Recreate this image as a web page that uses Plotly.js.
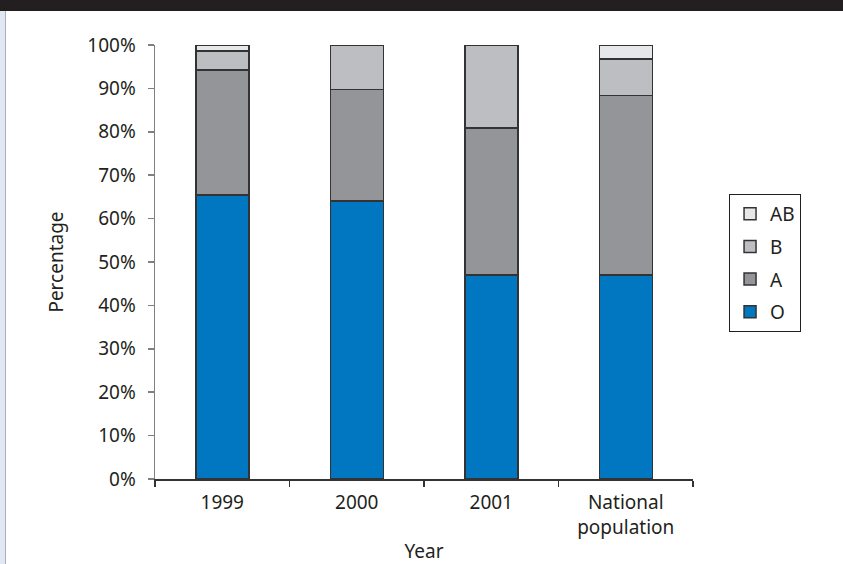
<!DOCTYPE html>
<html>
<head>
<meta charset="utf-8">
<script src="https://cdn.plot.ly/plotly-3.0.1.min.js"></script>
<style>
  html, body { margin: 0; padding: 0; background: #ffffff; }
  #wrap { position: relative; width: 843px; height: 564px; overflow: hidden; background: #ffffff; }
  #topbar { position: absolute; left: 0; top: 0; width: 843px; height: 11px; background: #231f20; }
  #leftstrip { position: absolute; left: 0; top: 11px; width: 5px; height: 553px; background: #e1e7f3; }
  #leftline { position: absolute; left: 5px; top: 11px; width: 1px; height: 553px; background: #a8aebb; }
  #chart { position: absolute; left: 0; top: 0; width: 843px; height: 564px; }
</style>
</head>
<body>
<div id="wrap">
  <div id="topbar"></div>
  <div id="leftstrip"></div>
  <div id="leftline"></div>
  <div id="chart"></div>
</div>
<script>
// Categories
const categories = ["1999", "2000", "2001", "National<br>population"];
// Blood group percentages (stacked to 100%)
const groupO  = [65.4, 64.1, 47.0, 47.0];
const groupA  = [28.8, 25.7, 33.9, 41.4];
const groupB  = [4.4, 10.2, 19.1, 8.4];
const groupAB = [1.4, 0, 0, 3.2];
// Y-axis ticks
const yTicks = [0, 10, 20, 30, 40, 50, 60, 70, 80, 90, 100];

const lineStyle = { color: "#333333", width: 1.5 };
const fontFam = "'Noto Sans', 'Open Sans', 'DejaVu Sans', sans-serif";
const textCol = "#231f20";

function mk(name, vals, color, rank) {
  return {
    type: "bar", name: name, x: categories, y: vals,
    legendgroup: name, legendrank: rank,
    marker: { color: color, line: lineStyle },
    hoverinfo: "skip"
  };
}

const data = [
  mk("O", groupO, "#0077c0", 4),
  mk("A", groupA, "#939598", 3),
  mk("B", groupB, "#bcbec1", 2),
  mk("AB", groupAB, "#e6e7e8", 1)
];

const layout = {
  width: 843, height: 564,
  paper_bgcolor: "rgba(0,0,0,0)",
  plot_bgcolor: "rgba(0,0,0,0)",
  margin: { l: 155, r: 150, t: 45, b: 85, pad: 0 },
  barmode: "stack",
  bargap: 0.606,
  font: { family: fontFam, size: 19, color: textCol },
  showlegend: true,
  legend: {
    x: 1.067, xanchor: "left", y: 0.657, yanchor: "top",
    bordercolor: "#231f20", borderwidth: 1,
    bgcolor: "#ffffff",
    traceorder: "grouped",
    tracegroupgap: 5,
    font: { family: fontFam, size: 19, color: textCol }
  },
  xaxis: {
    type: "category",
    showline: true, linecolor: "#333333", linewidth: 1.5,
    ticks: "outside", ticklen: 6, tickcolor: "#333333", tickwidth: 1.5,
    tickson: "boundaries",
    showgrid: false, zeroline: false,
    ticklabelstandoff: 6,
    tickfont: { family: fontFam, size: 19, color: textCol },
    title: { text: "Year", standoff: 12, font: { family: fontFam, size: 19, color: textCol } },
    fixedrange: true
  },
  yaxis: {
    range: [0, 100],
    tickmode: "array", tickvals: yTicks, ticktext: yTicks.map(v => v + "%"),
    showline: true, linecolor: "#808080", linewidth: 1.5,
    ticks: "outside", ticklen: 6, tickcolor: "#808080", tickwidth: 1.5,
    showgrid: false, zeroline: false,
    ticklabelstandoff: 8,
    tickfont: { family: fontFam, size: 19, color: textCol },
    title: { text: "Percentage", standoff: 18, font: { family: fontFam, size: 19, color: textCol } },
    fixedrange: true
  }
};

Plotly.newPlot("chart", data, layout, { displayModeBar: false, staticPlot: true });
</script>
</body>
</html>
